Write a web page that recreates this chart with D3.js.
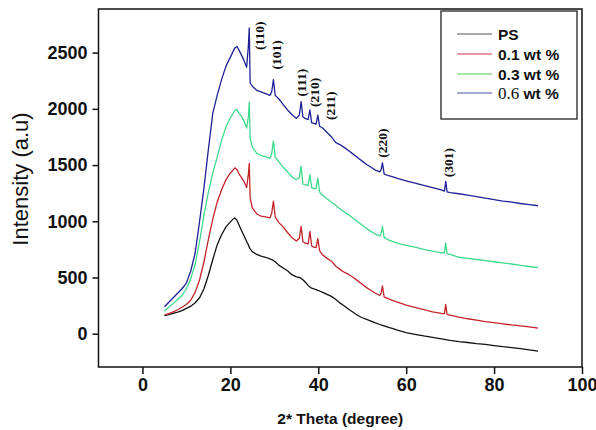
<!DOCTYPE html>
<html>
<head>
<meta charset="utf-8">
<script src="https://cdn.jsdelivr.net/npm/d3@7/dist/d3.min.js"></script>
<style>
  html, body { margin: 0; padding: 0; background: #fff; }
  svg { display: block; font-family: Arial, "Liberation Sans", sans-serif; }
</style>
</head>
<body>
<svg id="chart" width="596" height="430"></svg>
<script>
// 2θ sampling positions (degrees), shared by all four patterns
const theta = [
  5, 6, 7, 8, 9, 10, 11, 12, 13, 14, 15, 16, 17, 18, 19, 20,
  20.5, 21, 21.5, 22, 22.5, 23,
  23.7, 24.1, 24.3, 24.5,
  25, 26, 27, 28, 29,
  29.4, 29.8, 30.2,
  31, 32, 33, 34, 35,
  35.7, 36.1, 36.5,
  37,
  37.7, 38.1, 38.5,
  39,
  39.5, 39.9, 40.3,
  41, 42, 43, 44, 45, 46, 47, 48, 49, 50, 51, 52, 53, 54,
  54.3, 54.6, 55,
  56, 57, 58, 59, 60,
  62, 64, 66, 68,
  68.7, 69, 69.3,
  70, 72, 74, 76, 78, 80, 82, 84, 86, 88, 90
];

// Intensity (a.u) of each sample
const ps = [
  160, 170, 180, 192, 205, 225, 245, 275, 320, 400, 520, 660, 790, 880, 950, 995,
  1015, 1030, 1010, 965, 920, 880,
  820, 790, 770, 755,
  730, 705, 690, 680, 665,
  660, 650, 640,
  610, 585, 560, 525, 505,
  500, 492, 480,
  460,
  430, 415, 405,
  398,
  392, 385, 380,
  368, 350, 332, 305, 272, 245, 215, 188, 162, 142, 128, 112, 96, 82,
  78, 75, 70,
  56, 45, 32, 20, 10,
  -5, -20, -33, -45,
  -50, -52, -55,
  -60, -70, -78, -88, -95, -105, -115, -123, -133, -143, -155
];

const wt01 = [
  165, 178, 195, 213, 235, 260, 300, 370, 480, 640, 840, 1020, 1170, 1280, 1370, 1430,
  1450, 1475, 1460, 1420, 1390, 1360,
  1300, 1420, 1515, 1210,
  1120, 1065, 1045, 1040, 1030,
  1070, 1180, 1040,
  990, 950, 900, 855, 825,
  850, 955, 820,
  805,
  800, 910, 780,
  770,
  765, 845, 740,
  700, 670, 645, 600, 570, 545, 525, 500, 470, 440, 410, 385, 360, 340,
  360, 425, 325,
  310, 295, 280, 268, 255,
  235, 215, 195, 180,
  178, 260, 172,
  165, 148, 133, 120, 108, 98, 88, 78, 70, 60, 50
];

const wt03 = [
  200, 235, 270, 305, 340, 400, 490, 620, 820, 1060, 1260, 1430, 1570, 1720, 1840, 1920,
  1950, 1985, 1995, 1960, 1935, 1900,
  1830, 1930, 2060, 1740,
  1660, 1605, 1585, 1575, 1560,
  1600, 1715, 1570,
  1530, 1480, 1440, 1395, 1370,
  1390, 1490, 1330,
  1325,
  1320, 1415, 1300,
  1290,
  1290, 1385, 1260,
  1230, 1200, 1170, 1140, 1110, 1080, 1055, 1025, 995, 965, 935, 910, 885, 870,
  890, 955, 855,
  835, 820, 805, 795, 785,
  770, 750, 735, 720,
  718, 805, 712,
  705, 680, 670, 660, 650, 640, 630, 620, 608, 598, 588
];

const wt06 = [
  240, 280, 320, 360, 400, 450, 560, 720, 1000, 1300, 1640, 1960, 2120, 2260, 2380, 2460,
  2500, 2540, 2555, 2520, 2480, 2440,
  2370, 2560, 2720, 2230,
  2200, 2165, 2150, 2135, 2120,
  2150, 2260, 2120,
  2090, 2040, 1990, 1950, 1915,
  1945, 2065, 1930,
  1915,
  1905, 1990, 1875,
  1870,
  1865, 1945, 1845,
  1830, 1790, 1750, 1700, 1680, 1655, 1625, 1595, 1565, 1535, 1505, 1480, 1455, 1440,
  1460, 1520, 1420,
  1405, 1395, 1382, 1370, 1360,
  1340, 1320, 1300, 1280,
  1268, 1355, 1262,
  1255, 1245, 1232, 1220, 1205, 1192, 1180, 1170, 1158, 1148, 1138
];

const seriesNames = ["PS", "0.1 wt %", "0.3 wt %", "0.6 wt %"];
const seriesValues = [ps, wt01, wt03, wt06];

// Reflection indices and their 2θ positions
const hklLabels = ["(110)", "(101)", "(111)", "(210)", "(211)", "(220)", "(301)"];
const hklTheta = [24.3, 29.8, 36.1, 38.1, 39.9, 54.6, 69.0];

const xTicks = [0, 20, 40, 60, 80, 100];
const yTicks = [0, 500, 1000, 1500, 2000, 2500];

// ---- drawing ----
const lineColors = ["#111111", "#c3242a", "#3fd98c", "#1f2196"];
const legendColors = ["#555555", "#d0384a", "#4ccc5a", "#4a55a8"];
const serif = "'Liberation Serif', 'Times New Roman', serif";

const svg = d3.select("#chart");
const plot = { left: 98.5, right: 582, top: 9, bottom: 367 };

const x = d3.scaleLinear().domain([-10, 100]).range([plot.left, plot.right]);
const y = d3.scaleLinear().domain([-296, 2888]).range([plot.bottom, plot.top]);

// curves
const line = d3.line()
  .x((d, i) => x(theta[i]))
  .y(d => y(d));

svg.append("g")
  .selectAll("path")
  .data(seriesValues)
  .join("path")
  .attr("d", d => line(d))
  .attr("fill", "none")
  .attr("stroke", (d, i) => lineColors[i])
  .attr("stroke-width", 1.3)
  .attr("stroke-linejoin", "round");

// reflection labels sit just above (or beside) the 0.6 wt % peaks
const labelNudge = [[10.5, 22], [3, -10], [0, -5], [5, -3], [13, 5], [0, -5], [3, -4]];
svg.append("g")
  .selectAll("text")
  .data(hklLabels)
  .join("text")
  .attr("transform", (d, i) => {
    const k = theta.indexOf(hklTheta[i]);
    const px = x(hklTheta[i]) + labelNudge[i][0];
    const py = y(wt06[k]) + labelNudge[i][1];
    return `translate(${px},${py}) rotate(-90)`;
  })
  .attr("dy", "0.33em")
  .style("font-family", serif)
  .style("font-weight", "bold")
  .style("font-size", "13.5px")
  .attr("fill", "#111")
  .text(d => d);

// axes
const yAxis = d3.axisLeft(y).tickValues(yTicks).tickFormat(d3.format("d")).tickSize(6).tickPadding(5);
const xAxis = d3.axisBottom(x).tickValues(xTicks).tickFormat(d3.format("d")).tickSize(7).tickPadding(4);

const gy = svg.append("g").attr("transform", `translate(${plot.left},0)`).call(yAxis);
const gx = svg.append("g").attr("transform", `translate(0,${plot.bottom})`).call(xAxis);
[gx, gy].forEach(g => {
  g.select(".domain").remove();
  g.selectAll(".tick line").attr("stroke", "#111").attr("stroke-width", 1.5);
  g.selectAll(".tick text")
    .attr("fill", "#111")
    .style("font-size", "18px")
    .style("font-weight", "bold")
    .style("font-family", "Arial, 'Liberation Sans', sans-serif");
});

// plot frame
svg.append("rect")
  .attr("x", plot.left).attr("y", plot.top)
  .attr("width", plot.right - plot.left).attr("height", plot.bottom - plot.top)
  .attr("fill", "none").attr("stroke", "#111").attr("stroke-width", 1.5);

// axis titles
svg.append("text")
  .attr("x", (plot.left + plot.right) / 2).attr("y", 424)
  .attr("text-anchor", "middle")
  .style("font-size", "15.5px")
  .style("font-weight", "bold")
  .attr("fill", "#111")
  .text("2* Theta (degree)");

svg.append("text")
  .attr("transform", "translate(28,179) rotate(-90)")
  .attr("text-anchor", "middle")
  .style("font-size", "22px")
  .attr("fill", "#111")
  .text("Intensity (a.u)");

// legend
const legend = svg.append("g");
legend.append("rect")
  .attr("x", 441).attr("y", 11).attr("width", 136).attr("height", 108)
  .attr("fill", "#fff").attr("stroke", "#222").attr("stroke-width", 1.3);

const rows = legend.selectAll("g.row")
  .data(seriesNames)
  .join("g")
  .attr("class", "row")
  .attr("transform", (d, i) => `translate(0,${[34, 54, 74, 93][i]})`);

rows.append("line")
  .attr("x1", 457).attr("x2", 492)
  .attr("stroke", (d, i) => legendColors[i])
  .attr("stroke-width", 1.2);

rows.append("text")
  .attr("x", 498).attr("dy", "0.36em")
  .style("font-size", "15.5px")
  .style("font-weight", "bold")
  .attr("fill", "#111")
  .each(function (d) {
    const t = d3.select(this);
    const m = d.match(/^(0\.6)(.*)$/);
    if (m) {
      t.append("tspan")
        .style("font-family", serif)
        .style("font-size", "17px")
        .style("font-weight", "normal")
        .text(m[1]);
      t.append("tspan").text(m[2]);
    } else {
      t.text(d);
    }
  });
</script>
</body>
</html>
